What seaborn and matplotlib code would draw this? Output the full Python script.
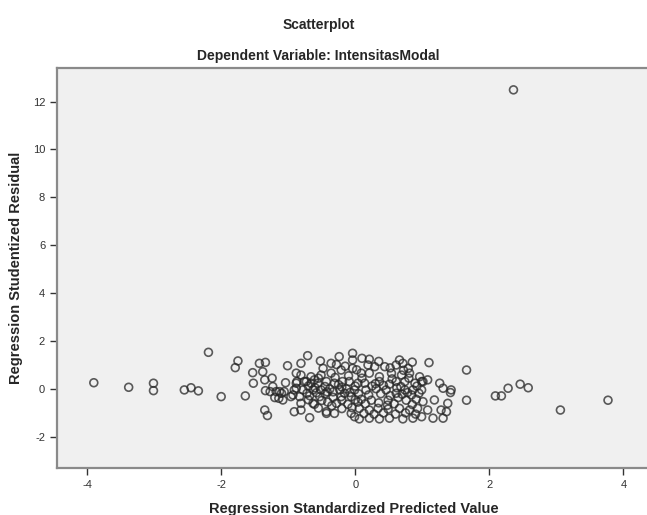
#Import Libraries
import pandas as pd
import matplotlib.pyplot as plt
import seaborn as sns

#Scatter data
pred = [-3.90, -3.38, -3.01, -3.01, -2.55, -2.45, -2.34, -2.19, -2.00, -1.75,
        -1.79, -1.64, -1.53, -1.52, -1.43, -1.34, -1.38, -1.35, -1.35, -1.31,
        -1.34, -1.24, -1.23, -1.27, -1.20, -1.13, -1.08, -1.04, -1.01, -1.06,
        -0.96, -0.91, -0.88, -0.87, -0.81, -0.81, -0.81, -0.81, -0.71, -0.68,
        -0.73, -0.61, -0.63, -0.52, -0.48, -0.43, -1.18, -1.10, -1.14, -0.93,
        -0.36, -0.24, -0.04, -0.04, -0.04, -0.21, -0.88, -0.66, -0.51, -0.36,
        -0.88, -0.76, -0.66, -0.56, -0.43, -0.31, -0.19, -0.09, 0.04,
        -0.91, -0.78, -0.63, -0.51, -0.38, -0.23, -0.13, -0.01,
        -0.83, -0.68, -0.53, -0.33, -0.21, -0.06,
        -0.61, -0.41, -0.28, -0.11, 0.04,
        -0.43, -0.31, -0.06, -0.01,
        0.10, 0.21, 0.44, 0.61, 0.71, 0.79, 0.66, 0.19, 0.29,
        0.09, 0.21, 0.36, 0.54, 0.69, 0.81, 0.96,
        0.14, 0.36, 0.51, 0.61, 0.74, 0.89, 0.99,
        0.16, 0.31, 0.46, 0.61, 0.74, 0.86, 0.99,
        0.09, 0.24, 0.49, 0.64, 0.76, 0.91,
        0.06, 0.21, 0.34, 0.49, 0.66, 0.81, 0.93,
        0.06, 0.21, 0.36, 0.51, 0.71, 0.86,
        1.10, 1.66, 1.66, 1.01, 1.08, 1.26, 1.31, 1.43, 1.42, 1.01,
        1.18, 1.38, 1.08, 1.28, 1.36, 1.16, 1.31, 0.99,
        2.09, 2.18, 2.28, 2.46, 2.58, 3.06, 3.77, 2.36,
        -0.70, -0.55, -0.45, -0.30, -0.20, -0.10, 0.00, 0.10, 0.25, 0.42,
        0.55, 0.68, 0.80, 0.92,
        -0.72, -0.58, -0.45, -0.33, -0.16, 0.05, 0.20, 0.38, 0.52, 0.70,
        0.84, 0.95,
        -0.70, -0.50, -0.20, 0.00, 0.15, 0.35, 0.58, 0.85,
        -0.55, -0.20, -0.05, 0.13, 0.28, 0.42, 0.60, 0.75, 0.90,
        -0.15, 0.02, 0.52, 0.85, 0.35, -0.28,
        -0.60, -0.42, -0.25, -0.08, 0.30, 0.62, 0.78, -0.35, 0.48, 0.72]

resid = [0.26, 0.07, 0.24, -0.07, -0.04, 0.05, -0.08, 1.53, -0.32, 1.17,
         0.89, -0.29, 0.68, 0.24, 1.07, 1.11, 0.72, 0.38, -0.88, -1.11,
         -0.07, 0.45, 0.10, -0.11, -0.36, -0.11, -0.46, 0.26, 0.97, -0.11,
         -0.32, -0.95, 0.03, 0.31, 1.07, 0.58, -0.60, -0.88, 1.39, -1.20,
         0.31, 0.38, -0.60, 1.17, 0.86, -1.02, -0.11, -0.18, -0.39, -0.25,
         1.07, 1.35, 1.49, 1.21, 0.86, 0.79, 0.66, 0.51, 0.58, 0.66,
         0.24, 0.31, 0.24, 0.24, 0.31, 0.24, 0.31, 0.31, 0.24,
         -0.04, -0.04, -0.04, -0.04, 0.00, -0.04, 0.00, -0.04,
         -0.32, -0.28, -0.32, -0.35, -0.32, -0.32,
         -0.64, -0.55, -0.60, -0.64, -0.55,
         -0.95, -1.02, -1.02, -1.16,
         1.28, 1.24, 0.93, 1.00, 1.07, 0.86, 1.21, 1.00, 0.93,
         0.66, 0.66, 0.51, 0.66, 0.58, 0.66, 0.51,
         0.24, 0.31, 0.20, 0.31, 0.31, 0.24, 0.31,
         -0.04, 0.01, -0.04, -0.18, -0.04, -0.04, -0.04,
         -0.43, -0.47, -0.47, -0.36, -0.47, -0.43,
         -0.81, -0.88, -0.81, -0.84, -0.81, -0.88, -0.81,
         -1.25, -1.22, -1.25, -1.22, -1.25, -1.22,
         1.10, 0.79, -0.47, 0.31, 0.38, 0.24, 0.03, -0.04, -0.15, -0.53,
         -0.46, -0.60, -0.88, -0.88, -0.95, -1.22, -1.22, -1.16,
         -0.29, -0.29, 0.03, 0.20, 0.05, -0.88, -0.47, 12.49,
         0.12, 0.45, 0.10, 0.48, 0.08, 0.55, 0.12, 0.45, 0.12, 0.15,
         0.42, 0.10, 0.45, 0.12,
         -0.18, -0.16, -0.20, -0.12, -0.18, -0.20, -0.25, -0.20, -0.28, -0.22,
         -0.25, -0.18,
         -0.45, -0.48, -0.46, -0.45, -0.62, -0.58, -0.62, -0.65,
         -0.80, -0.82, -0.78, -1.02, -1.05, -1.00, -1.05, -1.00, -1.05,
         0.95, 0.80, 0.88, 1.12, 1.15, 1.02,
         0.05, -0.12, 0.18, -0.15, 0.22, 0.05, -0.15, -0.70, -0.68, 0.78]

df = pd.DataFrame({'pred': pred, 'resid': resid})

#Style
sns.set_theme(style='ticks')
plt.rcParams['font.family'] = ['Liberation Sans', 'DejaVu Sans']
plt.rcParams['axes.unicode_minus'] = False

fig = plt.figure(figsize=(6.47, 5.15), dpi=100)
ax = fig.add_axes([0.088, 0.0913, 0.917, 0.777])
ax.set_facecolor('#f0f0f0')

sns.scatterplot(data=df, x='pred', y='resid', ax=ax, marker='o', s=32,
                facecolor='none', edgecolor='#262626', linewidth=1.2, alpha=0.75)

ax.set_xlim(-4.45, 4.40)
ax.set_ylim(-3.30, 13.41)
ax.set_xticks([-4, -2, 0, 2, 4])
ax.set_yticks([-2, 0, 2, 4, 6, 8, 10, 12])
ax.tick_params(axis='both', labelsize=8, colors='#333333', length=5, width=1, direction='out')

for s in ax.spines.values():
    s.set_color('#8a8a8a')
    s.set_linewidth(1.6)

ax.set_xlabel('Regression Standardized Predicted Value', fontsize=10.5, fontweight='bold', labelpad=9)
ax.set_ylabel('Regression Studentized Residual', fontsize=10.5, fontweight='bold', labelpad=7)

fig.text(0.492, 1 - 25 / 515, 'Scatterplot', ha='center', va='center', fontsize=10, fontweight='bold')
fig.text(0.492, 1 - 56 / 515, 'Dependent Variable: IntensitasModal', ha='center', va='center',
         fontsize=10, fontweight='bold')

plt.savefig('out.png', dpi=100)
